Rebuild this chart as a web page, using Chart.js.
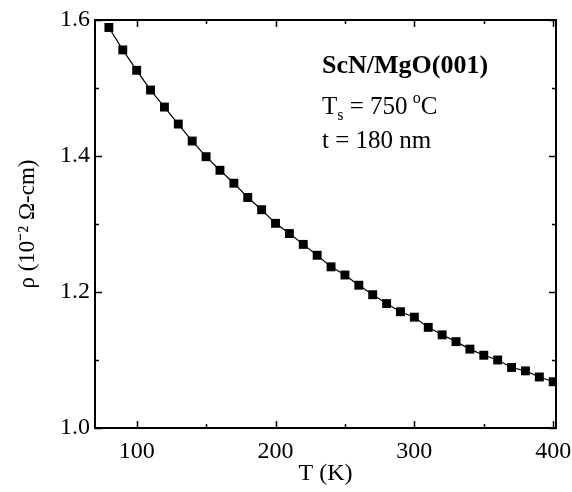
<!DOCTYPE html>
<html lang="en">
<head>
    <meta charset="UTF-8">
    <script src="https://cdn.jsdelivr.net/npm/chart.js"></script>
    <title>ScN/MgO(001) resistivity</title>
    <style>
        body { margin: 0; background: #fff; }
        .chart-container { position: relative; width: 572px; height: 492px; }
    </style>
</head>
<body>
<div class="chart-container">
    <canvas id="rho"></canvas>
</div>
<script>
    // temperature (K) and resistivity (10^-2 Ohm-cm)
    const temps = [80, 90, 100, 110, 120, 130, 140, 150, 160, 170, 180, 190, 200, 210, 220, 230,
                   240, 250, 260, 270, 280, 290, 300, 310, 320, 330, 340, 350, 360, 370, 380, 390, 400];
    const rho = [1.589, 1.556, 1.526, 1.497, 1.472, 1.447, 1.422, 1.399, 1.379, 1.360, 1.339, 1.321,
                 1.301, 1.286, 1.270, 1.254, 1.237, 1.225, 1.210, 1.196, 1.183, 1.171, 1.163,
                 1.148, 1.137, 1.127, 1.116, 1.107, 1.100, 1.089, 1.084, 1.075, 1.068];

    const xTicks = [100, 200, 300, 400];
    const xMinorTicks = [150, 250, 350];
    const yTicks = [1.0, 1.2, 1.4, 1.6];
    const yMinorTicks = [1.1, 1.3, 1.5];

    const serif = '"Liberation Serif", "Times New Roman", serif';

    // frame + inward ticks on all four sides, and the text block
    const framePlugin = {
        id: 'frame',
        afterDraw(chart) {
            const {ctx, chartArea: a, scales: {x, y}} = chart;
            ctx.save();
            ctx.strokeStyle = '#000';
            ctx.lineWidth = 2;
            ctx.strokeRect(a.left, a.top, a.right - a.left, a.bottom - a.top);
            ctx.lineWidth = 1.5;
            ctx.beginPath();
            const tick = (vals, len) => {
                vals.forEach(v => {
                    const px = Math.round(x.getPixelForValue(v)) + 0.5;
                    ctx.moveTo(px, a.bottom); ctx.lineTo(px, a.bottom - len);
                    ctx.moveTo(px, a.top); ctx.lineTo(px, a.top + len);
                });
            };
            const ytick = (vals, len) => {
                vals.forEach(v => {
                    const py = Math.round(y.getPixelForValue(v)) + 0.5;
                    ctx.moveTo(a.left, py); ctx.lineTo(a.left + len, py);
                    ctx.moveTo(a.right, py); ctx.lineTo(a.right - len, py);
                });
            };
            tick(xTicks, 7); tick(xMinorTicks, 4);
            ytick(yTicks, 7); ytick(yMinorTicks, 4);
            ctx.stroke();

            ctx.fillStyle = '#000';
            ctx.textBaseline = 'alphabetic';
            ctx.textAlign = 'left';
            ctx.font = 'bold 26px ' + serif;
            ctx.fillText('ScN/MgO(001)', 322, 73);

            ctx.font = '25px ' + serif;
            let cx = 322;
            ctx.fillText('T', cx, 114); cx += ctx.measureText('T').width;
            ctx.font = '16px ' + serif;
            ctx.fillText('s', cx, 120); cx += ctx.measureText('s').width;
            ctx.font = '25px ' + serif;
            ctx.fillText(' = 750 ', cx, 114); cx += ctx.measureText(' = 750 ').width;
            ctx.font = '16px ' + serif;
            ctx.fillText('o', cx - 1, 103); cx += ctx.measureText('o').width - 1;
            ctx.font = '25px ' + serif;
            ctx.fillText('C', cx, 114);

            ctx.fillText('t = 180 nm', 322, 148);
            ctx.restore();
        }
    };

    new Chart(document.getElementById('rho'), {
        type: 'line',
        data: {
            datasets: [{
                data: temps.map((t, i) => ({x: t, y: rho[i]})),
                borderColor: '#000',
                borderWidth: 1.2,
                backgroundColor: '#000',
                pointStyle: 'rect',
                pointRadius: 6.3,
                pointBorderWidth: 0,
                pointBackgroundColor: '#000',
                tension: 0
            }]
        },
        options: {
            animation: false,
            responsive: true,
            maintainAspectRatio: false,
            layout: { padding: { top: 20, right: 16, left: 0, bottom: 0 } },
            plugins: { legend: { display: false }, tooltip: { enabled: false } },
            scales: {
                x: {
                    type: 'linear',
                    min: 70,
                    max: 402,
                    afterBuildTicks: s => { s.ticks = xTicks.map(v => ({value: v})); },
                    afterFit: s => { s.height = 64; s.paddingLeft = 0; s.paddingRight = 0; },
                    grid: { display: false, drawTicks: false },
                    border: { display: false },
                    ticks: {
                        color: '#000',
                        padding: 9,
                        maxRotation: 0,
                        font: { family: serif, size: 24 },
                        callback: v => String(v)
                    },
                    title: {
                        display: true,
                        text: 'T (K)',
                        color: '#000',
                        padding: { top: 0, bottom: 4 },
                        font: { family: serif, size: 24 }
                    }
                },
                y: {
                    min: 1.0,
                    max: 1.6,
                    afterBuildTicks: s => { s.ticks = yTicks.map(v => ({value: v})); },
                    afterFit: s => { s.width = 95; s.paddingTop = 0; s.paddingBottom = 0; },
                    grid: { display: false, drawTicks: false },
                    border: { display: false },
                    ticks: {
                        color: '#000',
                        padding: 5,
                        font: { family: serif, size: 24 },
                        callback: v => v.toFixed(1)
                    },
                    title: {
                        display: true,
                        text: 'ρ (10⁻² Ω-cm)',
                        color: '#000',
                        padding: { top: 14, bottom: 0 },
                        font: { family: serif, size: 23 }
                    }
                }
            }
        },
        plugins: [framePlugin]
    });
</script>
</body>
</html>
